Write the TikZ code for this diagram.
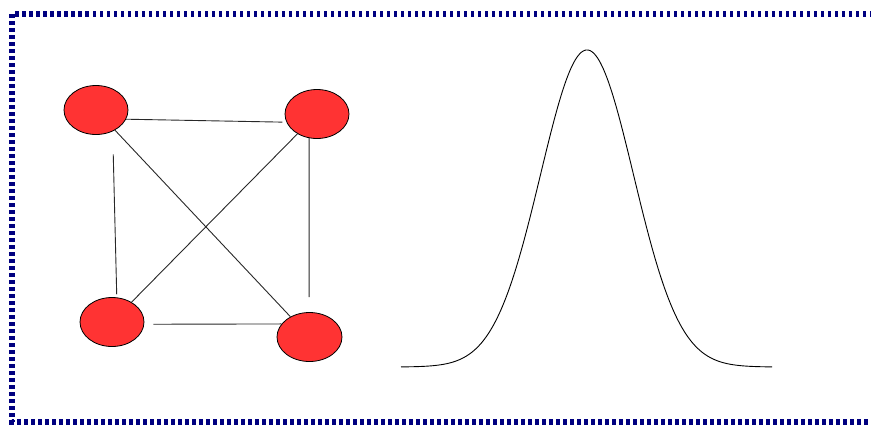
\documentclass[tikz,border=0pt]{standalone}
\usetikzlibrary{shapes.geometric}
\definecolor{bordernavy}{RGB}{0,0,128}
\definecolor{nodered}{RGB}{255,51,51}
\definecolor{edgegray}{RGB}{40,40,40}
\begin{document}
\begin{tikzpicture}[x=1pt,y=-1pt,
  vertex/.style={ellipse, draw=black, line width=0.8pt, fill=nodered, inner sep=0pt, minimum width=64pt, minimum height=49pt},
  edge/.style={draw=edgegray, line width=0.9pt},
  frame/.style={draw=bordernavy, line width=5.5pt, dash pattern=on 3.5pt off 3.5pt},
  curve/.style={draw=black, line width=0.9pt}]
\useasboundingbox (0,0) rectangle (871,424);
\clip (0,0) rectangle (871,424);
\draw[frame] (12,14) rectangle (878,422);
\node[vertex] (A) at (96,110) {};
\node[vertex] (B) at (317,114) {};
\node[vertex] (C) at (112,322) {};
\node[vertex, minimum width=65pt] (D) at (309.5,337) {};
\draw[edge, shorten >=4pt] (A.-17) -- (B.195);
\draw[edge] (A) -- (D);
\draw[edge] (B) -- (C);
\draw[edge, shorten <=23pt, shorten >=3pt] (A.-52) -- (C.79);
\draw[edge, shorten >=15pt] (B.252) -- (D.91);
\draw[edge, shorten <=9pt] (C.-4) -- (D.155);
\draw[curve] plot[domain=401:772, samples=250, smooth] (\x, {367-317*exp(-0.5*((\x-587)/46.5)^2)});
\end{tikzpicture}
\end{document}
